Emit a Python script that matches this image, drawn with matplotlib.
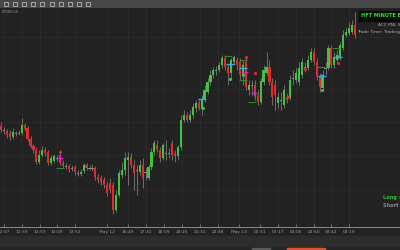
import matplotlib
matplotlib.use("Agg")
import matplotlib.pyplot as plt
import numpy as np
from matplotlib.patches import Rectangle

# ---- data (price units) ----
opens = [104,100,99,97,93,97,97,97,105,102,91,84,80,68,75,80,78,67,69,72,75,67,64,64,62,63,57,56,59,65,
         62,62,62,53,52,50,45,47,45,20,35,55,60,70,73,65,60,58,65,58,52,63,78,85,80,72,77,77,87,77,
         74,83,110,115,110,115,122,127,121,130,138,148,155,160,160,165,172,163,157,168,170,168,155,168,140,145,145,135,128,148,
         157,163,148,145,127,130,125,133,132,152,150,148,155,163,162,170,178,168,153,142,162,162,182,165,170,173,182,195,197,198,205]
closes = [100,100,95,93,98,97,97,105,101,91,84,80,68,75,80,77,67,72,74,72,67,64,64,61,62,58,57,58,65,62,
          62,62,53,50,48,45,37,40,20,35,57,60,72,73,65,57,60,65,52,58,63,78,87,80,72,85,77,77,75,74,
          83,110,115,110,115,123,127,122,130,140,148,155,160,160,165,172,163,157,170,173,165,155,165,143,145,145,138,128,149,160,
          163,148,133,135,133,130,140,130,150,152,157,162,168,163,170,178,168,153,143,155,162,182,165,173,175,185,195,198,202,205,195]
highs = [108,103,101,100,102,99,100,112,107,104,94,86,83,80,84,83,80,75,76,75,80,70,67,66,65,65,60,61,67,67,
         65,66,64,56,55,53,48,52,48,40,60,68,78,78,77,70,65,70,72,62,65,82,90,90,83,87,90,82,90,80,
         85,115,120,118,120,127,130,130,135,145,152,160,163,164,168,175,175,166,172,175,173,172,170,173,150,150,150,140,152,165,
         178,170,152,150,138,138,145,137,155,160,162,168,172,168,175,182,182,172,157,160,168,185,185,178,180,188,200,202,208,210,218]
lows = [98,96,92,90,91,94,95,95,99,89,82,77,66,66,73,74,65,65,67,69,65,62,61,58,59,55,54,54,57,60,
        60,59,50,47,45,42,34,37,16,18,33,52,55,45,62,40,35,55,42,50,50,60,75,78,68,70,70,72,70,68,
        70,80,108,108,108,112,118,120,115,128,136,145,152,155,158,162,160,145,152,165,160,150,145,140,135,135,130,125,126,145,
        155,145,125,120,122,120,122,127,130,145,147,145,152,158,160,168,165,150,138,140,155,160,162,162,168,170,180,193,195,196,192]

# indicator signals: (candle index, price)
cyan_x = [68.1, 77.6, 82.0, 108.8, 114.2]
cyan_y = [131, 166, 162, 154, 173]
magenta_x = [20.0, 82.7, 85.8]
magenta_y = [72, 158, 137]
reddot_x = [20.0, 83.0, 86.0, 97.3, 103.0, 114.2]
reddot_y = [78, 173, 157, 133, 161, 167]
greendot_x = [68.5, 77.6, 82.0, 108.8]
greendot_y = [122, 151, 155, 140]
dash_x = [20.0, 77.0, 82.0, 82.0, 85.0, 108.5, 113.5]
dash_y = [62, 174, 170, 150, 128, 163, 182]

tick_idx = [1.0, 7.1, 13.2, 19.0, 25.1, 35.9, 43.1, 49.2, 55.3, 61.4, 67.5, 73.6, 80.7, 87.8, 93.9, 100.0, 106.1, 111.9, 118.0]
tick_labels = ["12:07", "12:39", "12:59", "13:09", "13:52", "May 12", "16:49", "17:32", "18:09", "20:25",
               "21:31", "22:48", "May 13", "00:31", "01:17", "02:00", "02:50", "03:42", "04:19"]

BG = "#222222"
GREEN = "#3fc43f"
RED = "#e52a2a"
WICK = "#7a7a7a"

fig = plt.figure(figsize=(4, 2.5), dpi=100)
fig.patch.set_facecolor(BG)

# background chrome (drawn below chart)
bgx = fig.add_axes([0, 0, 1, 1])
bgx.set_xlim(0, 400)
bgx.set_ylim(250, 0)
bgx.axis("off")
bgx.set_zorder(0)
bgx.add_patch(Rectangle((0, 0), 400, 8, color="#474747", zorder=0))
for k in range(10):
    bgx.add_patch(Rectangle((3.5 + k * 9.2, 2.2), 4, 3.5, fill=False, ec="#b5b5b5", lw=0.6, zorder=1))
bgx.add_patch(Rectangle((0, 236), 400, 11, color="#2d2d2d", zorder=0))
bgx.add_patch(Rectangle((0, 247), 400, 3, color="#252525", zorder=0))
bgx.add_patch(Rectangle((252, 247.5), 18, 2.5, color="#5a5a5a", zorder=1))
bgx.add_patch(Rectangle((287, 247.5), 38, 2.5, color="#e2501c", zorder=1))

# main chart axes
ax = fig.add_axes([0, 23 / 250, 1, 219 / 250])
ax.set_zorder(1)
ax.set_facecolor(BG)
n = len(opens)
x = np.arange(n)
ax.set_xlim(-1 / 2.95, 399 / 2.95)
ax.set_ylim(3, 222)

for gy in [141, 193, 108, 75, 40]:
    ax.axhline(gy, color="#2c2c2c", lw=0.6, zorder=0)
for gx in tick_idx:
    ax.axvline(gx, color="#2c2c2c", lw=0.6, zorder=0)

o = np.array(opens); c = np.array(closes)
ax.vlines(x, lows, highs, color=WICK, lw=0.6, zorder=1)
up = c > o
dn = c < o
eq = c == o
ax.bar(x[up], (c - o)[up], bottom=o[up], width=0.72, color=GREEN, zorder=2, linewidth=0)
ax.bar(x[dn], (o - c)[dn], bottom=c[dn], width=0.72, color=RED, zorder=2, linewidth=0)
ax.bar(x[eq], 1.0, bottom=o[eq] - 0.5, width=0.72, color="#8a8a8a", zorder=2, linewidth=0)

ax.scatter(dash_x, dash_y, marker="_", s=30, color="#2e8b2e", linewidths=0.8, zorder=3)
ax.scatter(cyan_x, cyan_y, marker="_", s=30, color="#22b8e0", linewidths=1.0, zorder=4)
ax.scatter(cyan_x, cyan_y, marker="|", s=8, color="#22b8e0", linewidths=0.6, zorder=4)
ax.scatter(magenta_x, magenta_y, marker="+", s=25, color="#e020c8", linewidths=0.9, zorder=4)
ax.scatter(reddot_x, reddot_y, marker="o", s=5, color="#e52a2a", zorder=4, linewidths=0)
ax.scatter(greendot_x, greendot_y, marker="o", s=5, color="#3fc43f", zorder=4, linewidths=0)

for s in ["top", "right", "left"]:
    ax.spines[s].set_visible(False)
ax.spines["bottom"].set_color("#8a8a8a")
ax.spines["bottom"].set_linewidth(0.7)
ax.set_yticks([])
ax.set_xticks(tick_idx)
ax.set_xticklabels(tick_labels, fontsize=3.2, color="#9a9a9a")
ax.tick_params(axis="x", direction="in", length=2, width=0.5, color="#8a8a8a", pad=2.5)

# overlay texts (drawn above chart)
ov = fig.add_axes([0, 0, 1, 1])
ov.set_xlim(0, 400)
ov.set_ylim(250, 0)
ov.axis("off")
ov.set_zorder(5)
ov.patch.set_alpha(0)
ov.text(2, 12, "(1000,0)", fontsize=3, color="#9a9a9a", va="center", ha="left")
ov.add_patch(Rectangle((359, 11), 41, 10, color="#0a0a0a"))
ov.text(361, 16, "HFT MINUTE BOT (0", fontsize=3.6, color="#2ee82e", weight="bold", va="center", ha="left", clip_on=True)
ov.text(378, 25.5, "ACC PNL S", fontsize=3.2, color="#b0b0b0", va="center", ha="left", clip_on=True)
ov.text(357, 32, "Trade Time: Trading All", fontsize=3.2, color="#b0b0b0", va="center", ha="left", clip_on=True)
ov.text(383, 198, "Long : 0", fontsize=3.6, color="#35c035", weight="bold", va="center", ha="left", clip_on=True)
ov.text(383, 205.5, "Short : 0", fontsize=3.6, color="#8a8a8a", weight="bold", va="center", ha="left", clip_on=True)

fig.savefig("out.png", dpi=100, facecolor=BG)
